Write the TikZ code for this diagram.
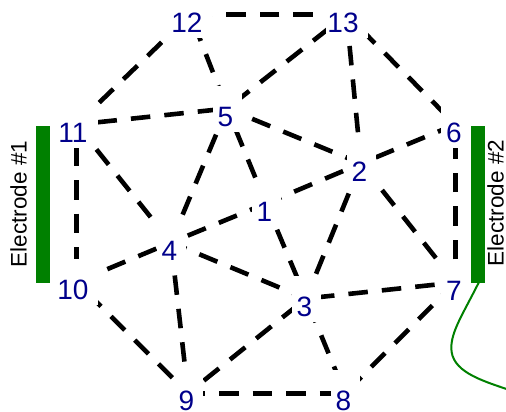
\documentclass[tikz,border=0pt]{standalone}
\usepackage{fontspec}
\setmainfont{Liberation Sans}
\definecolor{numblue}{RGB}{0,0,139}
\definecolor{elgreen}{RGB}{0,128,0}
\tikzset{
  edge/.style={line width=4.6bp,black},
  lab/.style={text=numblue,font=\fontsize{28bp}{28bp}\selectfont,inner sep=0pt},
  vtx/.style={rectangle,fill=white,inner sep=0pt,minimum width=29bp,minimum height=46bp,
     label={[lab,xshift=-1.5bp,yshift=-8bp]center:#1}},
  vtxb/.style={rectangle,fill=white,inner sep=0pt,minimum width=42bp,minimum height=46bp,
     label={[lab,xshift=-3.5bp,yshift=-8bp]center:#1}},
  bar/.style={fill=elgreen,draw=none},
  eltext/.style={font=\fontsize{22.5bp}{22.5bp}\selectfont,text=black,rotate=90,inner sep=0pt}
}
\begin{document}
\begin{tikzpicture}[x=1bp,y=-1bp]
\useasboundingbox (0,0) rectangle (506,411);
\foreach \n/\x/\y in {1/266/203.5,2/361/163.5,3/306/298.5,4/171/242.5,5/227/108.5,6/455.3/124.5,7/455.3/282.5,8/345/393.3,9/188/393.3}
  \coordinate (p\n) at (\x,\y);
\foreach \n/\x/\y in {10/76.5/282,11/76.5/124.5,12/190.5/14.5,13/346.5/14.5}
  \coordinate (p\n) at (\x,\y);
\foreach \a/\b/\ph in {13/12/0,12/11/27.1,11/10/11.7,10/9/18.5,9/8/2.6,8/7/30,7/6/10.4,6/13/20,
  12/5/24.7,13/5/10.7,13/2/2,6/2/0.6,7/2/2.4,7/3/12.8,8/3/24,9/3/13.3,9/4/1.7,10/4/0.2,11/4/1.7,
  11/5/12.5,5/4/5.3,5/2/6.4,5/1/12.1,1/3/5.2,3/2/6.9,4/3/2.9,4/1/15.5,1/2/3.1}
  \draw[edge,dash pattern=on 19.5bp off 14.1bp,dash phase=\ph bp] (p\a) -- (p\b);
\foreach \n in {1,...,9}
  \node[vtx={\n}] (n\n) at (p\n) {};
\foreach \n in {10,...,13}
  \node[vtxb={\n}] (n\n) at (p\n) {};
\fill[bar] (36,125.7) rectangle (50,282.5);
\fill[bar] (471,125.7) rectangle (484.8,282.5);
\node[eltext] (e1) at (18.5,204) {Electrode \#1};
\node[eltext] (e2) at (495.5,203) {Electrode \#2};
\coordinate (w0) at (479,282);
\coordinate (w1) at (506.5,389);
\draw[elgreen,line width=2bp] (w0) .. controls (463,314) and (451.3,331) .. (451.3,348) .. controls (451.3,371) and (480,380) .. (w1);
\end{tikzpicture}
\end{document}
